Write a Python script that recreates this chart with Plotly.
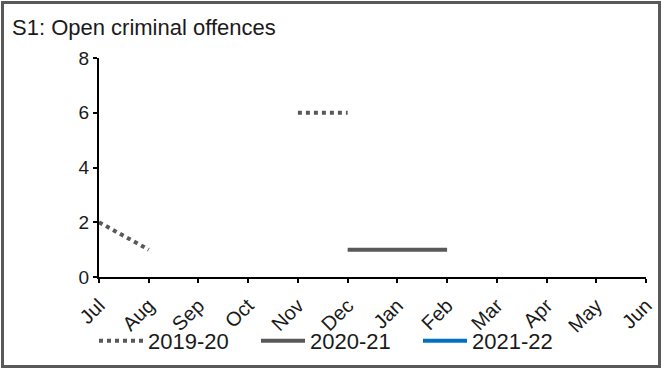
import plotly.graph_objects as go

months = ["Jul", "Aug", "Sep", "Oct", "Nov", "Dec", "Jan", "Feb", "Mar", "Apr", "May", "Jun"]
s2019_20 = [2, 1, None, None, 6, 6, None, None, None, None, None, None]
s2020_21 = [None, None, None, None, None, 1, 1, 1, None, None, None, None]
s2021_22 = [None] * 12
yticks = [0, 2, 4, 6, 8]

fig = go.Figure()
fig.add_trace(go.Scatter(x=months, y=s2019_20, name="2019-20", mode="lines",
                         line=dict(color="#595959", width=4, dash="dot"),
                         connectgaps=False))
fig.add_trace(go.Scatter(x=months, y=s2020_21, name="2020-21", mode="lines",
                         line=dict(color="#595959", width=4)))
fig.add_trace(go.Scatter(x=months, y=s2021_22, name="2021-22", mode="lines",
                         line=dict(color="#0070C0", width=4)))

L, R, T, B = 99, 646, 58, 277
W, H = R - L, B - T
def px(x): return (x - L) / W
def py(y): return (B - y) / H

fig.update_layout(
    template="none",
    width=661, height=369,
    margin=dict(l=L, r=661 - R, t=T, b=369 - B, pad=0, autoexpand=False),
    paper_bgcolor="white", plot_bgcolor="white",
    font=dict(family="Liberation Sans, Arial, sans-serif", color="#1a1a1a", size=20),
    title=dict(text="S1: Open criminal offences", xref="container", yref="container",
               x=12 / 661, xanchor="left", y=1 - 27 / 369, yanchor="middle",
               font=dict(size=22, color="#1a1a1a")),
    showlegend=True,
    legend=dict(orientation="h", x=px(94), xanchor="left", y=py(341), yanchor="middle",
                font=dict(size=22), itemwidth=44, entrywidth=103, entrywidthmode="pixels",
                bgcolor="rgba(0,0,0,0)", borderwidth=0),
    xaxis=dict(type="category", categoryorder="array", categoryarray=months,
               range=[0, 11], showgrid=False, zeroline=False, automargin=False,
               showline=True, linecolor="black", linewidth=2,
               ticks="outside", ticklen=4, tickwidth=1.5, tickcolor="black",
               tickangle=-45, tickfont=dict(size=20), ticklabelstandoff=3),
    yaxis=dict(range=[0, 8], tickvals=yticks, showgrid=False, zeroline=False,
               automargin=False,
               showline=True, linecolor="black", linewidth=2,
               ticks="outside", ticklen=4, tickwidth=1.5, tickcolor="black",
               tickfont=dict(size=19)),
    shapes=[dict(type="rect", xref="paper", yref="paper",
                 x0=px(2.5), x1=px(659.5), y0=py(366.5), y1=py(2.5),
                 line=dict(color="#595959", width=3), layer="below")],
)

fig.write_html("out.html", config={"displayModeBar": False},
               post_script="document.body.style.margin='0';document.body.style.padding='0';")
